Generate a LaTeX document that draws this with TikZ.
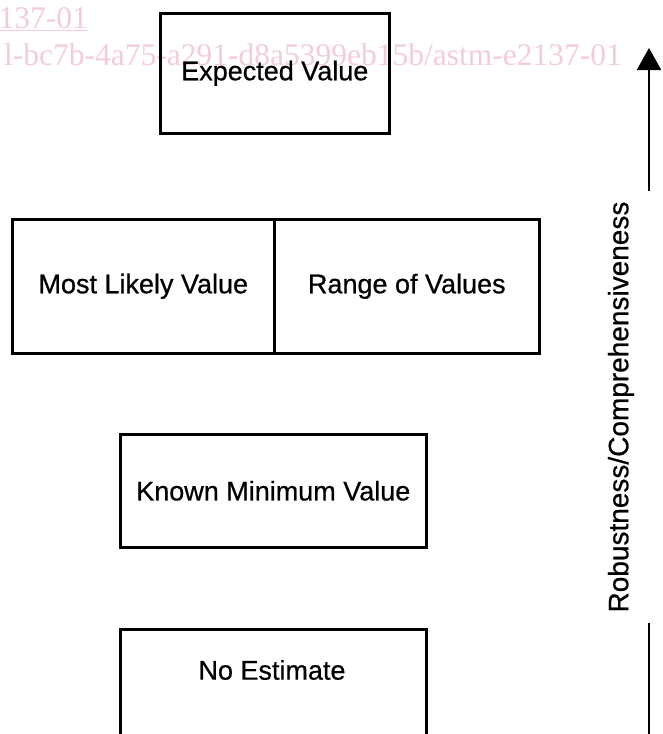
\documentclass[tikz,border=0pt]{standalone}
\usepackage{fontspec}
\usetikzlibrary{arrows.meta}
\newfontfamily\boxfont[FakeBold=0.6]{Liberation Sans}
\newfontfamily\wmfont{Liberation Serif}
\definecolor{wmpink}{RGB}{244,204,216}
\begin{document}
\begin{tikzpicture}[x=1pt,y=-1pt,
  box/.style={draw, line width=2.6pt, inner sep=0pt, anchor=north west,
              font=\boxfont\fontsize{27}{32}\selectfont},
  lbl/.style={inner sep=0pt, font=\boxfont\fontsize{27}{32}\selectfont},
  wm/.style={text=wmpink, inner sep=0pt, font=\wmfont\fontsize{31.5}{36}\selectfont},
  axis/.style={line width=2.4pt}]
\useasboundingbox (0,0) rectangle (663,734);
\clip (0,0) rectangle (663,734);
% watermark
\node[wm, anchor=base east] (wm1) at (88,28) {\underline{137-01}};
\node[wm, anchor=base east] (wm2) at (622,65) {l-bc7b-4a75-a291-d8a5399eb15b/astm-e2137-01};
% boxes
\node[box, minimum width=229pt, minimum height=120pt] (ev) at (159,12) {Expected Value};
\node[box, minimum width=262pt, minimum height=134pt] (ml) at (11,218) {Most Likely Value};
\node[box, minimum width=265pt, minimum height=134pt] (rv) at (273,218) {Range of Values};
\node[box, minimum width=306pt, minimum height=113pt] (km) at (119,433) {Known Minimum Value};
\node[box, minimum width=306pt, minimum height=140pt] (ne) at (119,628) {};
\node[lbl] (net) at (272,670) {No Estimate};
% axis
\coordinate (atop) at (649,48);
\coordinate (abot) at (649,740);
\node[lbl, rotate=90, inner sep=10pt, font=\boxfont\fontsize{28}{32}\selectfont] (lab) at (621,407) {Robustness/Comprehensiveness};
\draw[axis] (abot) -- (abot |- lab.west);
\draw[axis, -{Triangle[length=22pt,width=24pt]}] (atop |- lab.east) -- (atop);
\end{tikzpicture}
\end{document}
